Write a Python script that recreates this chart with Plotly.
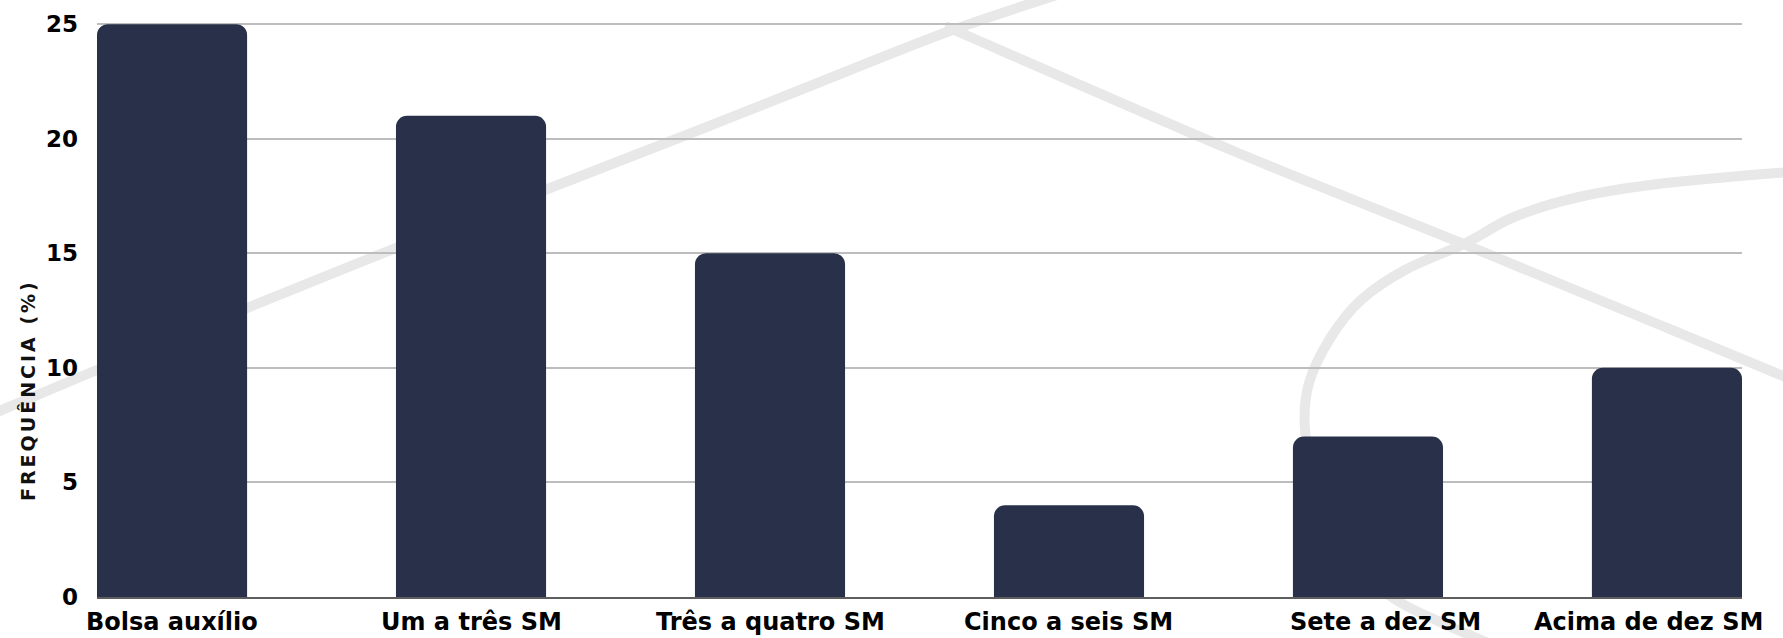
import plotly.graph_objects as go

# Dados do gráfico
categorias = [
    "Bolsa auxílio",
    "Um a três SM",
    "Três a quatro SM",
    "Cinco a seis SM",
    "Sete a dez SM",
    "Acima de dez SM",
]
frequencia = [25, 21, 15, 4, 7, 10]
ticks_y = [0, 5, 10, 15, 20, 25]
titulo_y = "FREQUÊNCIA (%)"

# Layout em pixels
W, H = 1783, 638
ML, MR, MT, MB = 97, 41, 23, 41
PW = W - ML - MR
PH = H - MT - MB

FONTE = "DejaVu Sans"
AZUL = "#283149"


def to_paper(px, py):
    return (px - ML) / PW, (H - MB - py) / PH


def smooth_path(points):
    """Catmull-Rom spline through pixel points, as an SVG path in paper units."""
    pts = [to_paper(x, y) for x, y in points]
    d = f"M {pts[0][0]:.5f},{pts[0][1]:.5f}"
    n = len(pts)
    for i in range(n - 1):
        p0 = pts[i - 1] if i > 0 else pts[i]
        p1 = pts[i]
        p2 = pts[i + 1]
        p3 = pts[i + 2] if i + 2 < n else pts[i + 1]
        c1 = (p1[0] + (p2[0] - p0[0]) / 6, p1[1] + (p2[1] - p0[1]) / 6)
        c2 = (p2[0] - (p3[0] - p1[0]) / 6, p2[1] - (p3[1] - p1[1]) / 6)
        d += (f" C {c1[0]:.5f},{c1[1]:.5f} {c2[0]:.5f},{c2[1]:.5f}"
              f" {p2[0]:.5f},{p2[1]:.5f}")
    return d


# Traços decorativos em cinza claro no fundo
tracos = [
    [(-10, 415), (92, 372), (247, 308), (396, 248), (545, 190), (689, 134),
     (800, 90), (947, 32), (1060, -6)],
    [(945, 26), (1231, 150), (1466, 245), (1660, 325), (1795, 381)],
    [(1800, 171), (1666, 183), (1579, 197), (1514, 217), (1466, 243),
     (1405, 270), (1361, 300), (1331, 337), (1309, 383), (1305, 430),
     (1318, 500), (1350, 560), (1393, 598), (1440, 622), (1500, 648)],
]

shapes = [
    dict(type="path", path=smooth_path(t), xref="paper", yref="paper",
         line=dict(color="#e8e8e8", width=10), layer="below")
    for t in tracos
]

fig = go.Figure(
    go.Bar(
        x=categorias,
        y=frequencia,
        marker=dict(color=AZUL, cornerradius=11, line=dict(width=0)),
        hoverinfo="x+y",
    )
)

# Rótulos das categorias sob o eixo
deslocamento_x = [0, 0, 0, 0, 18, -18]
annotations = []
for cat, dx in zip(categorias, deslocamento_x):
    annotations.append(dict(
        x=cat, xref="x", y=0, yref="paper", yanchor="middle", xanchor="center",
        yshift=-25, xshift=dx, showarrow=False, text=cat,
        font=dict(family=FONTE, size=24, color="#000000", weight="bold"),
    ))

# Título do eixo y
tx, ty = to_paper(28, 390)
annotations.append(dict(
    x=tx, y=ty, xref="paper", yref="paper", xanchor="center", yanchor="middle",
    textangle=-90, showarrow=False,
    text=f'<span style="letter-spacing:3px">{titulo_y}</span>',
    font=dict(family=FONTE, size=19, color="#111111", weight="bold"),
))

fig.update_layout(
    width=W,
    height=H,
    margin=dict(l=ML, r=MR, t=MT, b=MB, autoexpand=False),
    paper_bgcolor="#ffffff",
    plot_bgcolor="rgba(0,0,0,0)",
    bargap=0.498,
    showlegend=False,
    shapes=shapes,
    annotations=annotations,
    xaxis=dict(
        type="category",
        range=[-0.251, 5.251],
        showgrid=False,
        showticklabels=False,
        ticks="",
        showline=True,
        linecolor="#5e5e5e",
        linewidth=2,
        zeroline=False,
        fixedrange=True,
    ),
    yaxis=dict(
        range=[0, 25.05],
        tickvals=ticks_y,
        ticktext=[str(v) for v in ticks_y],
        tickfont=dict(family=FONTE, size=23, color="#000000", weight="bold"),
        ticks="",
        ticklabelstandoff=18,
        showgrid=True,
        gridcolor="#bdbdbd",
        gridwidth=2,
        zeroline=False,
        showline=False,
        fixedrange=True,
    ),
)

fig.write_html("out.html")
